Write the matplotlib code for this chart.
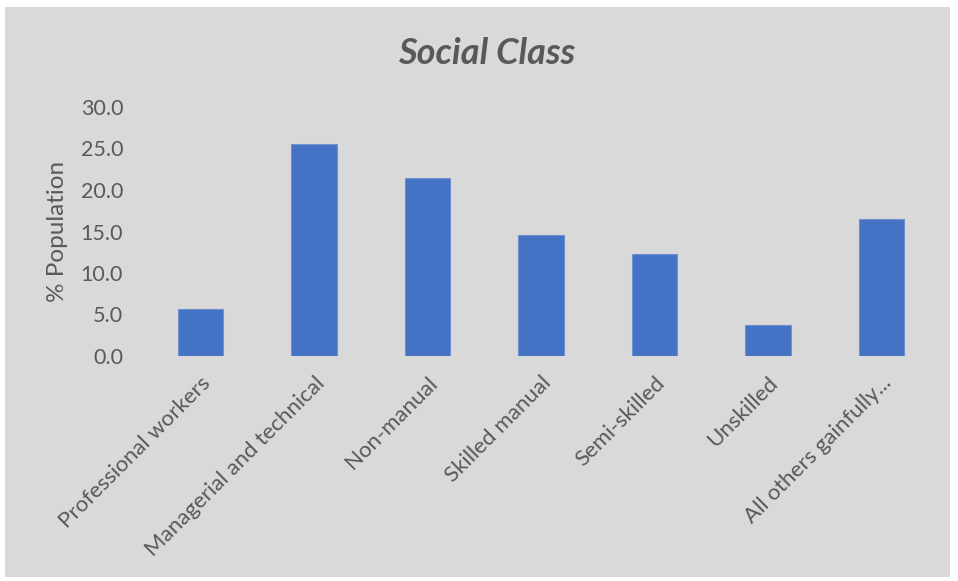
import matplotlib
matplotlib.use("Agg")
import matplotlib.pyplot as plt
from matplotlib.patches import Rectangle

categories = ["Professional workers", "Managerial and technical", "Non-manual",
              "Skilled manual", "Semi-skilled", "Unskilled", "All others gainfully..."]
values = [5.7, 25.5, 21.4, 14.6, 12.3, 3.7, 16.5]
yticks = [0, 5, 10, 15, 20, 25, 30]

W, H = 958, 581
fig = plt.figure(figsize=(W / 100, H / 100), dpi=100)
fig.patch.set_facecolor("white")
fig.patches.append(Rectangle((5 / W, 4 / H), 945 / W, 570 / H, transform=fig.transFigure,
                             facecolor="#d9d9d9", edgecolor="none", zorder=-10))

ax = fig.add_axes([144 / W, 1 - 356 / H, 794 / W, 249 / H])
ax.set_zorder(5)
ax.set_facecolor("none")
x = range(len(categories))
ax.bar(x, values, width=0.4, color="#4472c4", edgecolor="#6f91d0", linewidth=0.8)
ax.set_xlim(-0.5, len(categories) - 0.5)
ax.set_ylim(0, 30)
ax.set_yticks(yticks)
ax.set_yticklabels([f"{v:.1f}" for v in yticks], fontsize=15.5, color="#595959", family="Lato")
ax.set_xticks(list(x))
ax.set_xticklabels(categories, rotation=45, ha="right", rotation_mode="anchor",
                   fontsize=16, color="#595959", family="Lato")
ax.tick_params(length=0, axis="y", pad=15)
ax.tick_params(length=0, axis="x", pad=12)
for s in ax.spines.values():
    s.set_visible(False)
ax.set_ylabel("% Population", fontsize=17.5, color="#595959", family="Lato", labelpad=9)
fig.text(487 / W, 1 - 53 / H, "Social Class", ha="center", va="center", fontsize=26,
         fontweight="bold", style="italic", color="#595959", family="Lato")
fig.savefig("out.png", dpi=100, facecolor=fig.get_facecolor())
